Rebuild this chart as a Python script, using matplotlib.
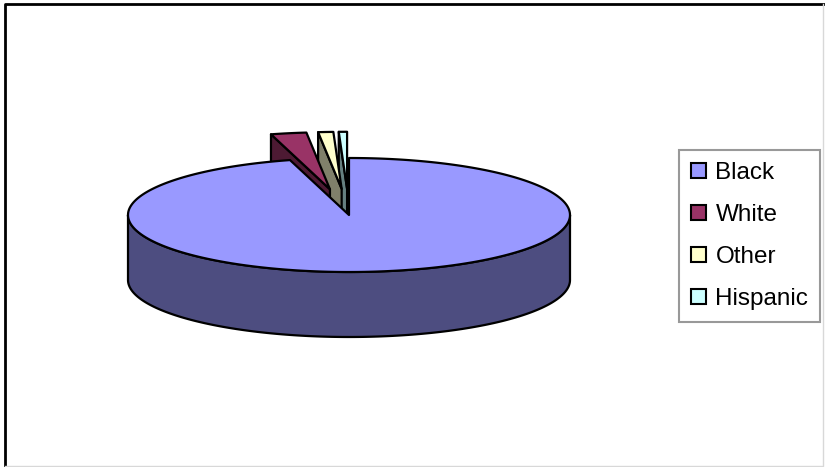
import numpy as np
import matplotlib.pyplot as plt
from matplotlib.patches import Polygon, Patch
from matplotlib.lines import Line2D

plt.rcParams['font.family'] = ['Liberation Sans', 'DejaVu Sans']

labels = ["Black", "White", "Other", "Hispanic"]
shares = [95.7, 2.6, 1.1, 0.6]
explode = [0.0, 0.46, 0.46, 0.46]
top_colors = ["#9999FF", "#993366", "#FFFFCC", "#CCFFFF"]
side_colors = ["#4D4D80", "#4D1A33", "#80806A", "#668080"]

# geometry of the 3d pie in pixel units
cx, cy = 349, 215
rx, ry = 221, 57
depth = 65


def proj(r, phi, off, dz=0.0):
    # phi: radians clockwise from 12 o'clock
    x = r * np.sin(phi) + off[0]
    y = r * np.cos(phi) + off[1]
    return cx + x, cy - y * ry / rx + dz


def arc(phi1, phi2, off, dz=0.0):
    n = max(int(np.degrees(phi2 - phi1)), 2)
    ph = np.linspace(phi1, phi2, n)
    return [proj(rx, p, off, dz) for p in ph]


def draw_slice(ax, phi1, phi2, ex, top, side):
    mid = (phi1 + phi2) / 2
    off = (ex * rx * np.sin(mid), ex * rx * np.cos(mid))
    c_top = proj(0, 0, off)
    c_bot = proj(0, 0, off, depth)
    kw = dict(edgecolor="black", linewidth=1.6, joinstyle="round")
    # outer wall, front half only
    a, b = max(phi1, np.pi / 2), min(phi2, 3 * np.pi / 2)
    if b > a:
        pts = arc(a, b, off) + arc(a, b, off, depth)[::-1]
        ax.add_patch(Polygon(pts, facecolor=side, **kw))
    # radial walls facing the viewer
    if np.sin(phi1) < -1e-6:
        pts = [c_top, proj(rx, phi1, off), proj(rx, phi1, off, depth), c_bot]
        ax.add_patch(Polygon(pts, facecolor=side, **kw))
    if np.sin(phi2) > 1e-6:
        pts = [c_top, proj(rx, phi2, off), proj(rx, phi2, off, depth), c_bot]
        ax.add_patch(Polygon(pts, facecolor=side, **kw))
    # top face
    pts = [c_top] + arc(phi1, phi2, off)
    ax.add_patch(Polygon(pts, facecolor=top, **kw))


fig = plt.figure(figsize=(8.25, 4.67), dpi=100)
ax = fig.add_axes([0, 0, 1, 1])
ax.set_xlim(0, 825)
ax.set_ylim(467, 0)
ax.axis("off")

bounds = np.radians(np.concatenate([[0], np.cumsum(shares)]) / sum(shares) * 360)
for i in reversed(range(len(shares))):
    draw_slice(ax, bounds[i], bounds[i + 1], explode[i], top_colors[i], side_colors[i])

# chart area border
ax.add_line(Line2D([5, 5, 825], [467, 4, 4], color="black", linewidth=2))
ax.add_line(Line2D([823, 823, 5], [4, 466, 466], color="#d8d8d8", linewidth=1))

handles = [Patch(facecolor=c, edgecolor="black", linewidth=1.5) for c in top_colors]
leg = ax.legend(handles, labels, loc="upper left", bbox_to_anchor=(679 / 825, 1 - 150 / 467),
                bbox_transform=fig.transFigure, fontsize=17.5, frameon=True, fancybox=False,
                handlelength=0.6, handleheight=0.6, handletextpad=0.4, labelspacing=0.82,
                borderpad=0.5, borderaxespad=0)
leg.get_frame().set_edgecolor("#808080")
leg.get_frame().set_linewidth(1.5)

fig.savefig("out.png", dpi=100)
